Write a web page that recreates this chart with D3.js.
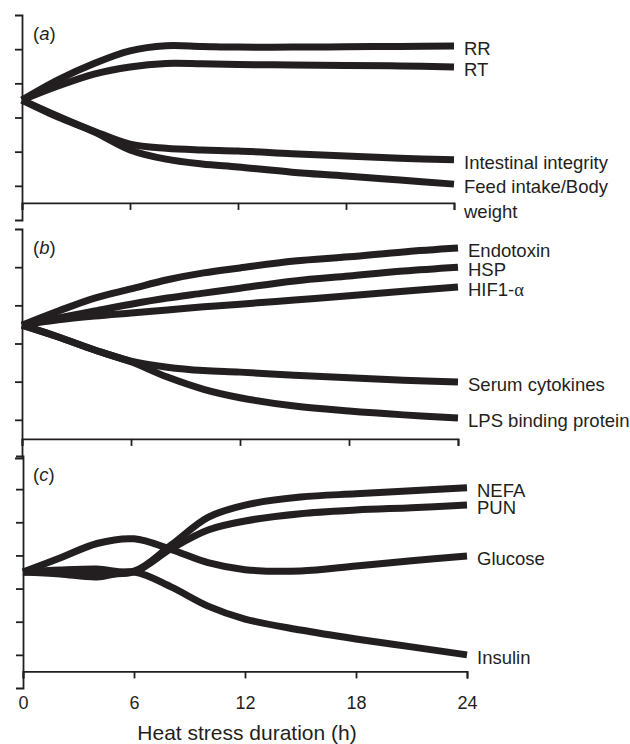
<!DOCTYPE html>
<html>
<head>
<meta charset="utf-8">
<script src="https://cdn.jsdelivr.net/npm/d3@7"></script>
<style>
body { margin: 0; background: #fff; }
svg text { font-family: "Liberation Sans", Arial, Helvetica, sans-serif; fill: #231f20; }
.axis path, .axis line { stroke: #231f20; stroke-width: 1.8; }
.curve { fill: none; stroke: #231f20; stroke-width: 7; stroke-linecap: butt; }
</style>
</head>
<body>
<svg id="chart" width="630" height="744"></svg>
<script>
// hours since the start of heat stress
var hours = [0, 2, 4, 6, 8, 10, 12, 15, 18, 21, 24];
var xTicks = [0, 6, 12, 18, 24];

// (a) relative response, arbitrary units
var rr         = [3.51, 4.10, 4.58, 4.95, 5.10, 5.08, 5.06, 5.06, 5.07, 5.08, 5.09];
var rt         = [3.51, 3.92, 4.27, 4.48, 4.58, 4.57, 4.55, 4.54, 4.52, 4.51, 4.48];
var intestinal = [3.51, 3.04, 2.60, 2.22, 2.10, 2.05, 2.02, 1.94, 1.87, 1.81, 1.76];
var feed       = [3.51, 3.01, 2.58, 2.05, 1.78, 1.64, 1.55, 1.40, 1.29, 1.17, 1.05];

// (b)
var endotoxin  = [3.48, 3.85, 4.19, 4.43, 4.67, 4.85, 4.98, 5.16, 5.27, 5.40, 5.50];
var hsp        = [3.48, 3.67, 3.85, 4.03, 4.19, 4.32, 4.45, 4.64, 4.77, 4.90, 5.00];
var hif        = [3.48, 3.62, 3.72, 3.80, 3.88, 3.96, 4.03, 4.14, 4.25, 4.37, 4.48];
var cytokines  = [3.48, 3.17, 2.83, 2.54, 2.38, 2.29, 2.25, 2.17, 2.10, 2.04, 1.99];
var lps        = [3.48, 3.17, 2.83, 2.52, 2.12, 1.80, 1.58, 1.36, 1.23, 1.13, 1.05];

// (c)
var nefa       = [3.50, 3.56, 3.59, 3.53, 4.31, 5.15, 5.52, 5.76, 5.86, 5.95, 6.04];
var pun        = [3.50, 3.50, 3.47, 3.50, 4.20, 4.77, 5.04, 5.26, 5.37, 5.44, 5.52];
var glucose    = [3.50, 3.92, 4.36, 4.50, 4.18, 3.78, 3.57, 3.53, 3.68, 3.84, 3.98];
var insulin    = [3.50, 3.44, 3.35, 3.50, 3.05, 2.47, 2.08, 1.75, 1.48, 1.24, 1.00];

var panels = [
  { tag: "a", x: [22, 454], y: [220, 15], max: 6, ticks: false,
    series: [
      { name: ["RR"], values: rr },
      { name: ["RT"], values: rt },
      { name: ["Intestinal integrity"], values: intestinal },
      { name: ["Feed intake/Body", "weight"], values: feed }
    ] },
  { tag: "b", x: [22, 458], y: [458, 229], max: 6, ticks: false,
    series: [
      { name: ["Endotoxin"], values: endotoxin },
      { name: ["HSP"], values: hsp },
      { name: ["HIF1-α"], values: hif },
      { name: ["Serum cytokines"], values: cytokines },
      { name: ["LPS binding protein"], values: lps }
    ] },
  { tag: "c", x: [23, 467], y: [688, 456], max: 7, ticks: true,
    series: [
      { name: ["NEFA"], values: nefa },
      { name: ["PUN"], values: pun },
      { name: ["Glucose"], values: glucose },
      { name: ["Insulin"], values: insulin }
    ] }
];

var svg = d3.select("#chart");

panels.forEach(function(p) {
  var x = d3.scaleLinear().domain([0, 24]).range(p.x);
  var y = d3.scaleLinear().domain([0, p.max]).range(p.y);
  var g = svg.append("g");

  // y axis: bracket with small ticks
  g.append("g")
    .attr("class", "axis")
    .attr("transform", "translate(" + p.x[0] + ",0)")
    .call(d3.axisLeft(y).tickValues(d3.range(1, p.max)).tickSizeInner(7).tickSizeOuter(7).tickFormat(""));

  // x axis
  var xa = g.append("g")
    .attr("class", "axis")
    .attr("transform", "translate(0," + y(0.5) + ")")
    .call(d3.axisBottom(x).tickValues(xTicks).tickSizeInner(7).tickSizeOuter(7)
      .tickPadding(18).tickFormat(p.ticks ? d3.format("d") : ""));
  xa.selectAll("text").attr("font-size", 18);

  var line = d3.line()
    .x(function(d, i) { return x(hours[i]); })
    .y(function(d) { return y(d); })
    .curve(d3.curveCatmullRom.alpha(0.5));

  p.series.forEach(function(s) {
    g.append("path")
      .attr("class", "curve")
      .attr("d", line(s.values));

    var last = s.values[s.values.length - 1];
    var t = g.append("text")
      .attr("x", x(24) + 10)
      .attr("y", y(last) + 9)
      .attr("font-size", 18.5);
    s.name.forEach(function(n, k) {
      var ts = t.append("tspan").attr("x", x(24) + 10).attr("dy", k ? 25 : 0);
      if (n.indexOf("α") >= 0) {
        ts.text(n.replace("α", ""));
        t.append("tspan").attr("font-family", "Liberation Serif, serif").text("α");
      } else {
        ts.text(n);
      }
    });
  });

  // panel tag (a), (b), (c)
  var lab = g.append("text")
    .attr("x", 33)
    .attr("y", p.y[1] + 25)
    .attr("font-size", 18.5);
  lab.append("tspan").text("(");
  lab.append("tspan").attr("font-style", "italic").text(p.tag);
  lab.append("tspan").text(")");

  if (p.ticks) {
    g.append("text")
      .attr("x", 247)
      .attr("y", 740)
      .attr("text-anchor", "middle")
      .attr("font-size", 21)
      .text("Heat stress duration (h)");
  }
});
</script>
</body>
</html>
